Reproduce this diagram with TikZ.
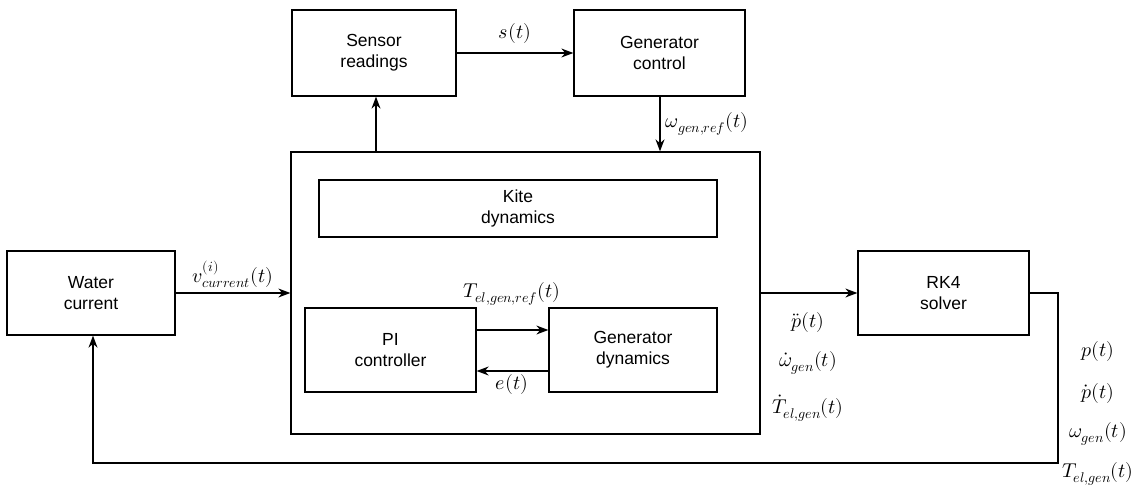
\documentclass[tikz,border=0pt]{standalone}
\usepackage{fontspec}
\setmainfont{Liberation Sans}
\usepackage{unicode-math}
\setmathfont{Latin Modern Math}
\usetikzlibrary{arrows.meta}
\begin{document}
\begin{tikzpicture}[x=1pt,y=-1pt,
  box/.style={draw,line width=1.3pt,align=center,font=\fontsize{17.5}{21}\selectfont,inner sep=0pt},
  lab/.style={font=\fontsize{20}{22}\selectfont,inner sep=1pt},
  flow/.style={line width=1.3pt,-{Stealth[length=12pt,width=9pt]}}]
\useasboundingbox (0,0) rectangle (1141,492);
% blocks
\node[box,minimum width=164pt,minimum height=86pt] (sensor) at (374,53) {Sensor\\readings};
\node[box,minimum width=171pt,minimum height=86pt] (genctl) at (659.5,53) {Generator\\control};
\node[box,minimum width=469pt,minimum height=282pt] (main) at (525.5,293) {};
\node[box,minimum width=398pt,minimum height=57pt] (kite) at (518,208.5) {Kite\\dynamics};
\node[box,minimum width=171pt,minimum height=84pt] (pi) at (390.5,350) {PI\\controller};
\node[box,minimum width=168pt,minimum height=84pt] (gendyn) at (633,350) {Generator\\dynamics};
\node[box,minimum width=168pt,minimum height=84pt] (water) at (91,293) {Water\\current};
\node[box,minimum width=171pt,minimum height=84pt] (rk4) at (943.5,293) {RK4\\solver};
% signal paths
\draw[flow] (sensor.east) -- (genctl.west) node[lab,midway,above=8pt] {$s(t)$};
\draw[flow] (main.north -| 376,0) -- (sensor.south -| 376,0);
\draw[flow] (genctl.south -| 660,0) -- (main.north -| 660,0) node[lab,midway,right=4pt] {$\omega_{gen,ref}(t)$};
\draw[flow] (water.east) -- (main.west) node[lab,midway,above=4pt] {$v^{(i)}_{current}(t)$};
\draw[flow] (pi.east |- 0,330) -- (gendyn.west |- 0,330);
\node[lab] (tref) at (512,294) {$T_{el,gen,ref}(t)$};
\draw[flow] (gendyn.west |- 0,371) -- (pi.east |- 0,371);
\node[lab] (err) at (512,384) {$e(t)$};
\draw[flow] (main.east) -- (rk4.west);
\node[lab] (pdd) at (808,322) {$\ddot{p}(t)$};
\node[lab] (wd) at (808,363) {$\dot{\omega}_{gen}(t)$};
\node[lab] (td) at (808,408) {$\dot{T}_{el,gen}(t)$};
\coordinate (c1) at (1058,293);
\coordinate (c2) at (1058,463);
\draw[flow] (rk4.east) -- (c1) -- (c2) -- (c2 -| 93,0) -- (water.south -| 93,0);
\node[lab] (p) at (1098,351) {$p(t)$};
\node[lab] (pd) at (1098,393) {$\dot{p}(t)$};
\node[lab] (w) at (1098,434) {$\omega_{gen}(t)$};
\node[lab] (t) at (1098,474) {$T_{el,gen}(t)$};
\end{tikzpicture}
\end{document}
